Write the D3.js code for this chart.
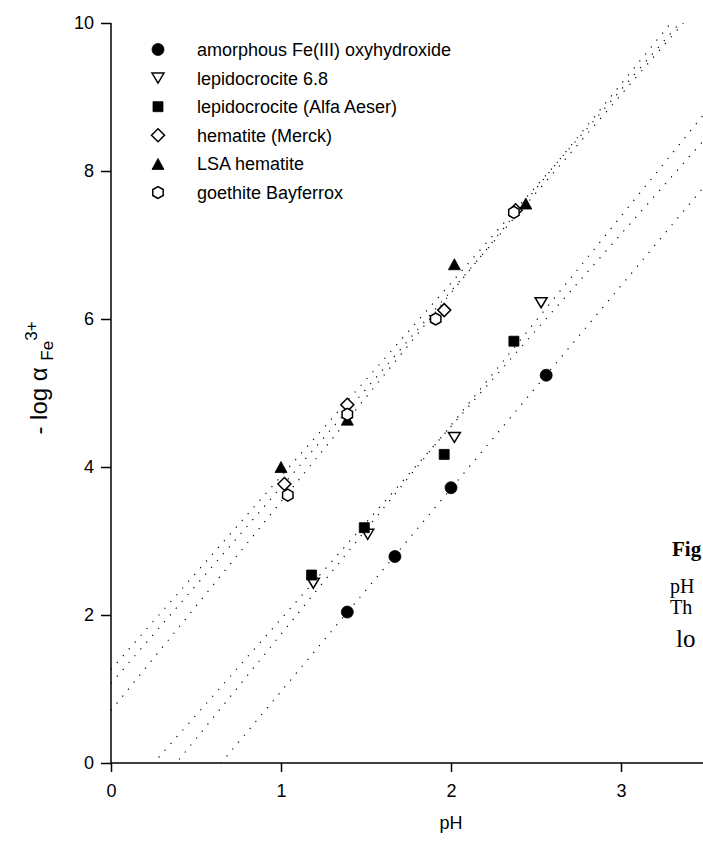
<!DOCTYPE html>
<html>
<head>
<meta charset="utf-8">
<script src="https://cdn.jsdelivr.net/npm/d3@7"></script>
<style>
  body { margin: 0; background: #fff; }
  svg { display: block; }
</style>
</head>
<body>
<svg id="chart" width="703" height="859"></svg>
<script>
// ---- data: pH vs. -log a(Fe3+) for each solid ----
const seriesNames = [
  "amorphous Fe(III) oxyhydroxide",
  "lepidocrocite 6.8",
  "lepidocrocite (Alfa Aeser)",
  "hematite (Merck)",
  "LSA hematite",
  "goethite Bayferrox"
];
const amorphousPH  = [1.39, 1.67, 2.00, 2.56];
const amorphousVal = [2.04, 2.79, 3.72, 5.24];
const lepido68PH   = [1.19, 1.51, 2.02, 2.53];
const lepido68Val  = [2.43, 3.09, 4.40, 6.22];
const alfaPH       = [1.18, 1.49, 1.96, 2.37];
const alfaVal      = [2.54, 3.18, 4.17, 5.70];
const merckPH      = [1.02, 1.39, 1.96, 2.38];
const merckVal     = [3.77, 4.84, 6.12, 7.47];
const lsaPH        = [1.00, 1.39, 2.02, 2.44];
const lsaVal       = [4.00, 4.64, 6.74, 7.56];
const goethitePH   = [1.04, 1.39, 1.91, 2.37];
const goethiteVal  = [3.62, 4.71, 6.00, 7.44];

const xTicks = [0, 1, 2, 3];
const yTicks = [0, 2, 4, 6, 8, 10];

// caption fragments at the right margin
const captionLines = ["Fig", "pH", "Th", "lo"];

// ---- custom marker shapes ----
const triDown = {
  draw(ctx) {
    const w = 6, h = 5;
    ctx.moveTo(-w, -h); ctx.lineTo(w, -h); ctx.lineTo(0, h); ctx.closePath();
  }
};
const triUp = {
  draw(ctx) {
    const w = 6, h = 5.5;
    ctx.moveTo(0, -h); ctx.lineTo(w, h); ctx.lineTo(-w, h); ctx.closePath();
  }
};
const square = {
  draw(ctx) { ctx.rect(-5, -5, 10, 10); }
};
const diamond = {
  draw(ctx) {
    const r = 6.5;
    ctx.moveTo(0, -r); ctx.lineTo(r, 0); ctx.lineTo(0, r); ctx.lineTo(-r, 0); ctx.closePath();
  }
};
const hexagon = {
  draw(ctx) {
    const r = 6;
    for (let i = 0; i < 6; i++) {
      const a = Math.PI / 2 + i * Math.PI / 3;
      const px = r * Math.cos(a), py = r * Math.sin(a);
      if (i === 0) ctx.moveTo(px, py); else ctx.lineTo(px, py);
    }
    ctx.closePath();
  }
};
const circle = {
  draw(ctx) { ctx.moveTo(6, 0); ctx.arc(0, 0, 6, 0, 2 * Math.PI); }
};

const series = [
  { name: seriesNames[0], pH: amorphousPH, val: amorphousVal, shape: circle,  filled: true },
  { name: seriesNames[1], pH: lepido68PH,  val: lepido68Val,  shape: triDown, filled: false },
  { name: seriesNames[2], pH: alfaPH,      val: alfaVal,      shape: square,  filled: true },
  { name: seriesNames[3], pH: merckPH,     val: merckVal,     shape: diamond, filled: false },
  { name: seriesNames[4], pH: lsaPH,       val: lsaVal,       shape: triUp,   filled: true },
  { name: seriesNames[5], pH: goethitePH,  val: goethiteVal,  shape: hexagon, filled: false }
];

// least-squares straight line through each data set
function fit(xs, ys) {
  const mx = d3.mean(xs), my = d3.mean(ys);
  let sxy = 0, sxx = 0;
  xs.forEach((x, i) => { sxy += (x - mx) * (ys[i] - my); sxx += (x - mx) * (x - mx); });
  const slope = sxy / sxx;
  return { slope, intercept: my - slope * mx };
}

// ---- layout ----
const svg = d3.select("#chart");
const x = d3.scaleLinear().domain([0, 4]).range([111, 791]);
const y = d3.scaleLinear().domain([0, 10]).range([763, 23]);
const font = "'Liberation Sans', Arial, sans-serif";

svg.append("defs").append("clipPath").attr("id", "plotArea")
  .append("rect")
  .attr("x", x(0)).attr("y", y(10))
  .attr("width", x(4) - x(0)).attr("height", y(0) - y(10));

// regression lines (dotted)
const lineLayer = svg.append("g").attr("clip-path", "url(#plotArea)");
series.forEach(s => {
  const f = fit(s.pH, s.val);
  const xs = x.domain();
  lineLayer.append("line")
    .attr("x1", x(xs[0])).attr("y1", y(f.intercept + f.slope * xs[0]))
    .attr("x2", x(xs[1])).attr("y2", y(f.intercept + f.slope * xs[1]))
    .attr("stroke", "#000")
    .attr("stroke-width", 1.2)
    .attr("stroke-dasharray", "1.2 7.8");
});

// axes
const xAxis = svg.append("g")
  .attr("transform", `translate(0,${y(0)})`)
  .call(d3.axisBottom(x).tickValues(xTicks).tickSize(9).tickPadding(12).tickFormat(d3.format("d")));
const yAxis = svg.append("g")
  .attr("transform", `translate(${x(0)},0)`)
  .call(d3.axisLeft(y).tickValues(yTicks).tickSize(10).tickPadding(7).tickFormat(d3.format("d")));
[xAxis, yAxis].forEach(g => {
  g.select(".domain").remove();
  g.selectAll(".tick line").attr("stroke", "#000").attr("stroke-width", 1.5);
  g.selectAll(".tick text").attr("fill", "#000")
    .style("font-family", font).style("font-size", "18px");
});
// plain axis lines
svg.append("line").attr("x1", x(0)).attr("x2", x(4)).attr("y1", y(0)).attr("y2", y(0))
  .attr("stroke", "#000").attr("stroke-width", 1.5);
svg.append("line").attr("x1", x(0)).attr("x2", x(0)).attr("y1", y(0)).attr("y2", y(10))
  .attr("stroke", "#000").attr("stroke-width", 1.5);

// data markers
const sym = d3.symbol();
series.forEach(s => {
  svg.append("g").selectAll("path")
    .data(s.pH.map((p, i) => [p, s.val[i]]))
    .join("path")
    .attr("transform", d => `translate(${x(d[0])},${y(d[1])})`)
    .attr("d", sym.type(s.shape)())
    .attr("fill", s.filled ? "#000" : "#fff")
    .attr("stroke", "#000")
    .attr("stroke-width", s.filled ? 0.8 : 1.5);
});

// legend
const legend = svg.append("g");
series.forEach((s, i) => {
  const ly = 49.5 + i * 28.6;
  legend.append("path")
    .attr("transform", `translate(158,${ly})`)
    .attr("d", sym.type(s.shape)())
    .attr("fill", s.filled ? "#000" : "#fff")
    .attr("stroke", "#000")
    .attr("stroke-width", s.filled ? 0.8 : 1.5);
  legend.append("text")
    .attr("x", 197).attr("y", ly + 6.5)
    .style("font-family", font).style("font-size", "18px")
    .text(s.name);
});

// axis titles
svg.append("text")
  .attr("x", x(2)).attr("y", 829)
  .attr("text-anchor", "middle")
  .style("font-family", font).style("font-size", "18px")
  .text("pH");

const yt = svg.append("text")
  .attr("transform", "translate(47,378) rotate(-90)")
  .attr("text-anchor", "middle")
  .style("font-family", font).style("font-size", "24px");
yt.append("tspan").text("- log \u03B1 ");
yt.append("tspan").attr("dy", 6).style("font-size", "17px").text("Fe");
yt.append("tspan").attr("dy", -16).style("font-size", "17px").text("3+");

// caption text at the right margin
const serif = "'Liberation Serif', 'Times New Roman', serif";
const capStyle = [
  { x: 672, y: 556, size: 21, weight: "bold" },
  { x: 670, y: 593, size: 20, weight: "normal" },
  { x: 670, y: 614, size: 20, weight: "normal" },
  { x: 676, y: 647, size: 25, weight: "normal" }
];
captionLines.forEach((t, i) => {
  const c = capStyle[i];
  svg.append("text").attr("x", c.x).attr("y", c.y)
    .style("font-family", serif).style("font-size", c.size + "px")
    .style("font-weight", c.weight)
    .text(t);
});
</script>
</body>
</html>
